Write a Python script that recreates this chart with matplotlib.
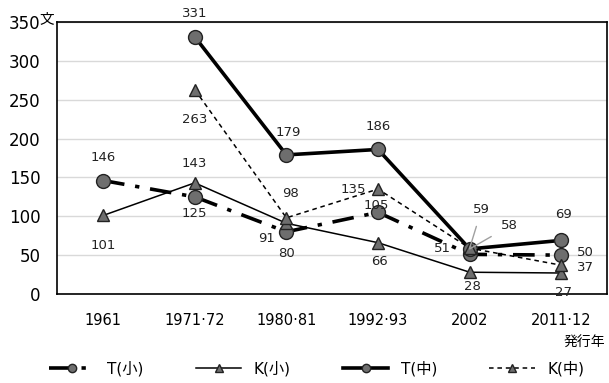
import numpy as np
import matplotlib.pyplot as plt

plt.rcParams['font.family'] = ['DejaVu Sans', 'Noto Sans CJK JP']

years = ['1961', '1971·72', '1980·81', '1992·93', '2002', '2011·12']
t_sho = [146, 125, 80, 105, 51, 50]
k_sho = [101, 143, 91, 66, 28, 27]
t_chu = [np.nan, 331, 179, 186, 58, 69]
k_chu = [np.nan, 263, 98, 135, 59, 37]

x = np.arange(len(years))
fig = plt.figure(figsize=(6.09, 3.83), dpi=100)
ax = fig.add_axes([0.094, 0.2324, 0.903, 0.7102])

mk = dict(markerfacecolor='#6e6e6e', markeredgecolor='#222222', markeredgewidth=1)
ax.plot(x, t_sho, color='black', lw=2.6, dashes=(6, 3, 1.2, 3), marker='o', ms=10, label='T(小)', zorder=3, **mk)
ax.plot(x, k_sho, color='black', lw=1.1, marker='^', ms=9, label='K(小)', zorder=3, **mk)
ax.plot(x, t_chu, color='black', lw=2.6, marker='o', ms=10, label='T(中)', zorder=3, **mk)
ax.plot(x, k_chu, color='black', lw=1.1, dashes=(3, 2.5), marker='^', ms=9, label='K(中)', zorder=3, **mk)

# label offsets in pixels (dx, dy)
offs = {
    'ts': [(0, 23), (0, -17), (0, -22), (-2, 7), (-27, 6), (24, 3)],
    'ks': [(0, -30), (0, 19), (-20, -15), (1, -19), (3, -14), (2, -19)],
    'tc': [None, (0, 23), (2, 22), (0, 23), (40, 23), (2, 26)],
    'kc': [None, (0, -30), (4, 24), (-25, 0), (12, 39), (24, -2)],
}
series = {'ts': t_sho, 'ks': k_sho, 'tc': t_chu, 'kc': k_chu}
for key, vals in series.items():
    for i, v in enumerate(vals):
        if np.isnan(v):
            continue
        dx, dy = offs[key][i]
        arrow = None
        if years[i] == '2002' and key in ('tc', 'kc'):
            arrow = dict(arrowstyle='-', color='#a0a0a0', lw=1, shrinkA=6, shrinkB=0)
        ax.annotate(str(v), (x[i], v), xytext=(dx, dy), textcoords='offset pixels',
                    ha='center', va='center', fontsize=9.5, color='#222222',
                    arrowprops=arrow, zorder=4)

ax.set_xlim(-0.5, 5.5)
ax.set_ylim(0, 350)
ax.set_yticks(range(0, 351, 50))
ax.set_xticks(x)
ax.set_xticklabels(years, fontsize=10.5)
ax.tick_params(axis='y', length=0, labelsize=12, pad=12)
ax.tick_params(axis='x', length=0, pad=14)
ax.grid(axis='y', color='#d9d9d9', lw=1)
ax.set_axisbelow(True)
for s in ax.spines.values():
    s.set_color('black')
    s.set_linewidth(1.2)

fig.text(0.064, 0.952, '文', fontsize=10.5, ha='left', va='center')
fig.text(0.993, 0.104, '発行年', fontsize=10, ha='right', va='center')
fig.legend(loc='center', bbox_to_anchor=(0.52, 0.038), ncol=4, frameon=False,
           fontsize=11, handlelength=3, columnspacing=3.4, handletextpad=0.8, markerscale=0.6)

fig.savefig('out.png', dpi=100)
